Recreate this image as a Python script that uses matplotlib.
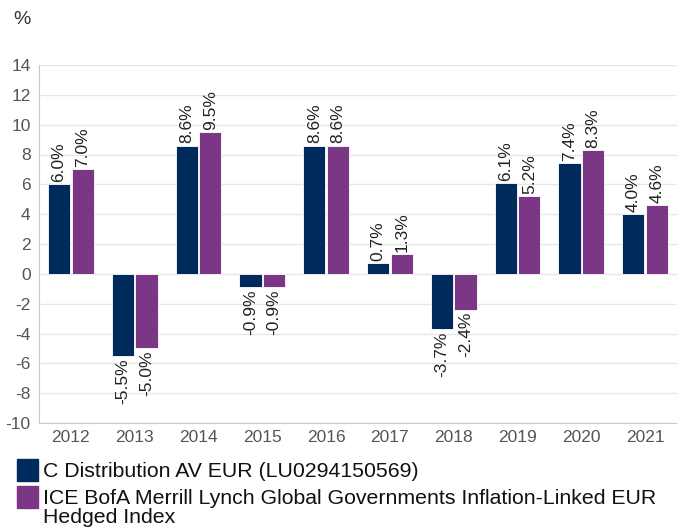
import matplotlib.pyplot as plt
from matplotlib.patches import Rectangle
import numpy as np

plt.rcParams['font.family'] = ['Liberation Sans', 'DejaVu Sans']
plt.rcParams['axes.unicode_minus'] = False

years = ['2012', '2013', '2014', '2015', '2016', '2017', '2018', '2019', '2020', '2021']
fund = [6.0, -5.5, 8.6, -0.9, 8.6, 0.7, -3.7, 6.1, 7.4, 4.0]
index = [7.0, -5.0, 9.5, -0.9, 8.6, 1.3, -2.4, 5.2, 8.3, 4.6]
fund_name = 'C Distribution AV EUR (LU0294150569)'
index_name = 'ICE BofA Merrill Lynch Global Governments Inflation-Linked EUR\nHedged Index'

navy = '#002a5c'
purple = '#7b3785'

W, H = 677, 527
fig = plt.figure(figsize=(W / 100, H / 100), dpi=100)
ax = fig.add_axes([39 / W, 1 - 423 / H, (W - 39) / W, (423 - 65) / H])

x = np.arange(len(years))
bw = 0.35
ax.bar(x - bw / 2 - 0.01, fund, bw, color=navy, edgecolor='white', linewidth=0.6, zorder=3)
ax.bar(x + bw / 2 + 0.01, index, bw, color=purple, edgecolor='white', linewidth=0.6, zorder=3)

for xs, vals in ((x - bw / 2 - 0.01, fund), (x + bw / 2 + 0.01, index)):
    for xi, v in zip(xs, vals):
        ax.text(xi, v + (0.15 if v >= 0 else -0.15), f'{v:.1f}%', rotation=90,
                ha='center', va='bottom' if v >= 0 else 'top',
                fontsize=12.5, color='#222222', zorder=4)

ax.set_xlim(-0.5, len(years) - 0.5)
ax.set_ylim(-10, 14)
ax.set_yticks(range(-10, 15, 2))
ax.set_xticks(x)
ax.set_xticklabels(years)
ax.tick_params(axis='both', length=0, labelsize=12.5, colors='#555555', pad=5)
ax.tick_params(axis='y', pad=6)
ax.grid(axis='y', color='#e6e6e6', linewidth=1, zorder=0)
for s in ('top', 'right'):
    ax.spines[s].set_visible(False)
ax.spines['left'].set_color('#c8c8c8')
ax.spines['bottom'].set_color('#c8c8c8')

fig.text(13 / W, 1 - 20 / H, '%', fontsize=14, color='#333333', va='center', ha='left')

# legend
for yc, col, label in ((470, navy, fund_name), (497, purple, index_name)):
    fig.patches.append(Rectangle((17 / W, 1 - (yc + 11) / H), 21 / W, 22 / H,
                                 transform=fig.transFigure, color=col))
    fig.text(43 / W, 1 - (yc - 8) / H, label, fontsize=15.3, color='#111111',
             va='top', ha='left', linespacing=0.98)

fig.savefig('out.png', dpi=100)
